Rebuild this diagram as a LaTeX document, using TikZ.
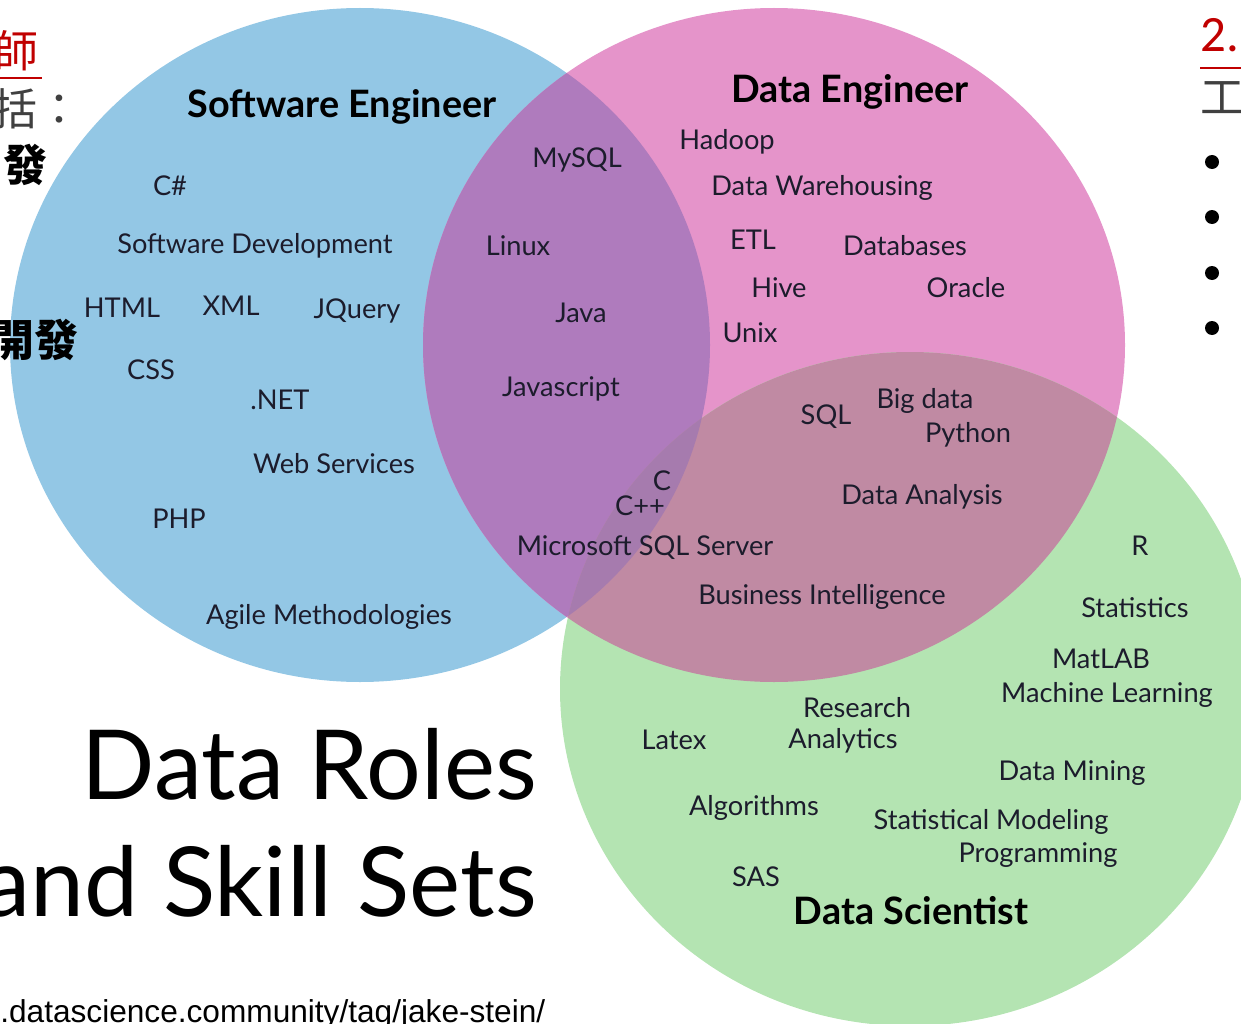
\documentclass[tikz,border=0pt]{standalone}
\usepackage{fontspec}
\usepackage{tikz}
\setmainfont{Lato}
\newfontfamily\cjk{Noto Sans CJK TC}
\newfontfamily\slidefont{Carlito}
\newfontfamily\urlfont{Liberation Sans}

\definecolor{seblue}{RGB}{147,199,229}
\definecolor{depink}{RGB}{229,148,202}
\definecolor{dsgreen}{RGB}{180,228,178}
\definecolor{sedeviolet}{RGB}{175,123,189}
\definecolor{dedsmauve}{RGB}{192,138,163}
\definecolor{allthree}{RGB}{166,123,174}
\definecolor{skillink}{RGB}{28,28,44}
\definecolor{slidered}{RGB}{192,0,0}
\definecolor{slidegray}{RGB}{64,64,64}

\tikzset{
  skill/.style={text=skillink, inner sep=0pt, font=\fontsize{15.5}{17}\selectfont},
  role/.style={text=black, inner sep=0pt, font=\fontsize{21.5}{24}\selectfont\bfseries},
  bigtitle/.style={text=black, inner sep=0pt, anchor=base east, font=\fontsize{55}{60}\selectfont},
  cjktext/.style={inner sep=0pt, anchor=base west, font=\cjk\fontsize{25}{25}\selectfont},
}

\begin{document}
\begin{tikzpicture}[x=0.02cm,y=-0.02cm]
  \useasboundingbox (0,0) rectangle (1241,1024);
  \clip (0,0) rectangle (1241,1024);

  % the three sets
  \fill[seblue] (360,345) ellipse [x radius=350, y radius=337];
  \fill[depink] (774,345) ellipse [x radius=351, y radius=337];
  \fill[dsgreen] (910,689) ellipse [x radius=350, y radius=337];
  \begin{scope}
    \clip (360,345) ellipse [x radius=350, y radius=337];
    \fill[sedeviolet] (774,345) ellipse [x radius=351, y radius=337];
  \end{scope}
  \begin{scope}
    \clip (774,345) ellipse [x radius=351, y radius=337];
    \fill[dedsmauve] (910,689) ellipse [x radius=350, y radius=337];
    \clip (360,345) ellipse [x radius=350, y radius=337];
    \fill[allthree] (910,689) ellipse [x radius=350, y radius=337];
  \end{scope}

  % Software Engineer
  \node[role] (se) at (342,107) {Software Engineer};
  \node[skill] (csharp) at (170,186) {C\#};
  \node[skill] (swdev) at (255,246) {Software Development};
  \node[skill] (html) at (122,308) {HTML};
  \node[skill] (xml) at (231,306) {XML};
  \node[skill] (jquery) at (357,311) {JQuery};
  \node[skill] (css) at (151,370) {CSS};
  \node[skill] (dotnet) at (280,400) {.NET};
  \node[skill] (websvc) at (334,464) {Web Services};
  \node[skill] (php) at (179,519) {PHP};
  \node[skill] (agile) at (329,617) {Agile Methodologies};

  % shared by SE and DE
  \node[skill] (mysql) at (577,160) {MySQL};
  \node[skill] (linux) at (518,246) {Linux};
  \node[skill] (java) at (581,313) {Java};
  \node[skill] (js) at (561,389) {Javascript};
  \node[skill] (c) at (662,481) {C};
  \node[skill] (cpp) at (640,506) {C++};
  \node[skill] (mssql) at (645,548) {Microsoft SQL Server};

  % Data Engineer
  \node[role] (de) at (850,92) {Data Engineer};
  \node[skill] (hadoop) at (727,142) {Hadoop};
  \node[skill] (dwh) at (822,188) {Data Warehousing};
  \node[skill] (etl) at (753,240) {ETL};
  \node[skill] (db) at (905,246) {Databases};
  \node[skill] (hive) at (779,288) {Hive};
  \node[skill] (oracle) at (966,288) {Oracle};
  \node[skill] (unix) at (750,333) {Unix};
  \node[skill] (sql) at (826,417) {SQL};
  \node[skill] (bigdata) at (925,401) {Big data};
  \node[skill] (python) at (968,435) {Python};
  \node[skill] (analysis) at (922,497) {Data Analysis};
  \node[skill] (bi) at (822,597) {Business Intelligence};

  % Data Scientist
  \node[skill] (r) at (1140,546) {R};
  \node[skill] (stats) at (1135,608) {Statistics};
  \node[skill] (matlab) at (1101,659) {MatLAB};
  \node[skill] (ml) at (1107,695) {Machine Learning};
  \node[skill] (research) at (857,708) {Research};
  \node[skill] (latex) at (674,740) {Latex};
  \node[skill] (analytics) at (843,741) {Analytics};
  \node[skill] (mining) at (1072,773) {Data Mining};
  \node[skill] (algo) at (754,808) {Algorithms};
  \node[skill] (statmod) at (991,822) {Statistical Modeling};
  \node[skill] (prog) at (1038,855) {Programming};
  \node[skill] (sas) at (756,877) {SAS};
  \node[role] (ds) at (911,911) {Data Scientist};

  % slide title and source
  \node[bigtitle] (roles) at (537,799) {Data Roles};
  \node[bigtitle] (sets) at (537,916) {and Skill Sets};
  \node[inner sep=0pt, anchor=base west, font=\urlfont\fontsize{18}{19}\selectfont] (src) at (0,1022) {.datascience.community/tag/jake-stein/};

  % cut-off slide text, left
  \node[cjktext, text=slidered] (shi) at (-6,68) {師};
  \draw[slidered, line width=0.04cm] (0,78) -- (42,78);
  \node[cjktext, text=slidegray] (kuo) at (-7,126) {括：};
  \node[cjktext, font=\cjk\bfseries\fontsize{25}{25}\selectfont] (fa) at (3,181) {發};
  \node[cjktext, font=\cjk\bfseries\fontsize{25}{25}\selectfont] (kaifa) at (-10,356) {開發};

  % cut-off slide text, right
  \node[inner sep=0pt, anchor=base west, text=slidered, font=\slidefont\fontsize{29}{29}\selectfont] (two) at (1200,52) {2.};
  \draw[slidered, line width=0.05cm] (1200,68) -- (1241,68);
  \node[cjktext, text=slidegray] (gong) at (1200,113) {工};
  \foreach \y in {162,217,273,328}
    \fill (1212,\y) circle [radius=7];
\end{tikzpicture}
\end{document}
